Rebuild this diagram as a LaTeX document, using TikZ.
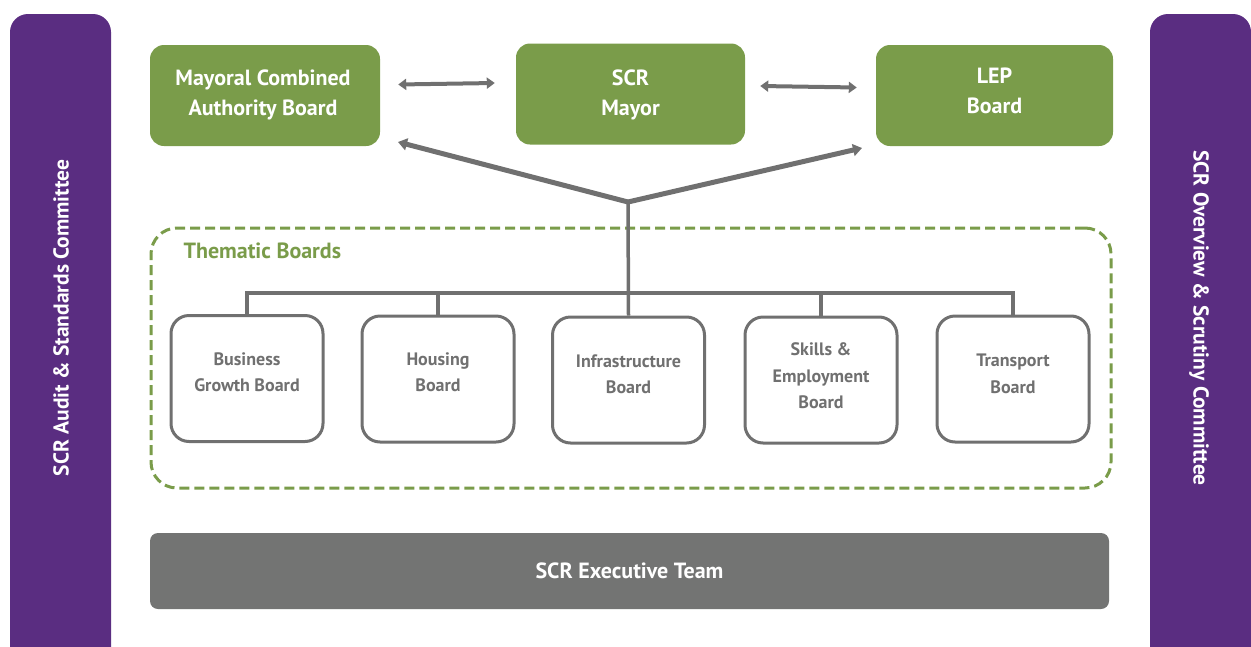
\documentclass[tikz,border=0pt]{standalone}
\usepackage{fontspec}
\setmainfont{PT Sans}
\usetikzlibrary{arrows.meta}
\definecolor{spurple}{HTML}{5A2D81}
\definecolor{sgreen}{HTML}{7A9C4A}
\definecolor{sline}{HTML}{707070}
\definecolor{sexec}{HTML}{737473}
\begin{document}
\begin{tikzpicture}[x=1pt,y=-1pt,
  greenbox/.style={fill=sgreen, rounded corners=14pt, inner sep=0pt, minimum height=101pt},
  greentext/.style={text=white, font=\bfseries\fontsize{22}{30}\selectfont, align=center, inner sep=0pt},
  sidebar/.style={fill=spurple, rounded corners=18pt},
  sidetext/.style={text=white, font=\bfseries\fontsize{21.5}{24}\selectfont},
  boardbox/.style={draw=sline, line width=3pt, rounded corners=18pt, fill=white,
    minimum width=152pt, minimum height=126pt, inner sep=0pt},
  boardtext/.style={align=center, text=sline, font=\bfseries\fontsize{18}{26.5}\selectfont, inner sep=0pt},
  tree/.style={draw=sline, line width=3.5pt},
  dbl/.style={draw=sline, line width=4pt, {Triangle[length=8pt,width=11pt]}-{Triangle[length=8pt,width=11pt]}},
  varrow/.style={draw=sline, line width=5pt, -{Triangle[length=9pt,width=12pt]}},
  thematicbox/.style={draw=sgreen, line width=3pt, dash pattern=on 10pt off 5pt,
    rounded corners=26pt, minimum width=960pt, minimum height=260pt, inner sep=0pt},
  execbox/.style={fill=sexec, rounded corners=8pt, minimum width=959pt, minimum height=76pt,
    text=white, font=\bfseries\fontsize{22}{24}\selectfont, inner sep=0pt}
]
\useasboundingbox (0,0) rectangle (1251,646);
\begin{scope}
  \clip (0,0) rectangle (1251,646);
  \fill[sidebar] (10,14) rectangle (111,690);
  \fill[sidebar] (1150,14) rectangle (1251,690);
\end{scope}
\node[sidetext, rotate=90] (audit) at (61,318) {SCR Audit \& Standards Committee};
\node[sidetext, rotate=-90] (overview) at (1199,318) {SCR Overview \& Scrutiny Committee};

% top boxes
\node[greenbox, minimum width=230pt] (mca) at (265,95.5) {};
\node[greentext] (mcatext) at (263,95) {Mayoral Combined\\Authority Board};
\node[greenbox, minimum width=229pt] (mayor) at (630.5,94) {};
\node[greentext] (mayortext) at (630.5,95) {SCR\\Mayor};
\node[greenbox, minimum width=237pt] (lep) at (994.5,95.5) {};
\node[greentext] (leptext) at (994.5,91) {LEP\\Board};

\draw[dbl] ([xshift=18pt,yshift=11pt]mca.east) -- ([xshift=-21pt,yshift=11pt]mayor.west);
\draw[dbl] ([xshift=15pt,yshift=8pt]mayor.east) -- ([xshift=-19pt,yshift=8pt]lep.west);

% thematic boards
\node[thematicbox] (thematic) at (631,358) {};
\node[anchor=west, text=sgreen, font=\bfseries\fontsize{22}{24}\selectfont] (thlabel) at (180,251) {Thematic Boards};

\node[boardbox] (bgb) at (247,378.5) {};
\node[boardtext] (bgbtext) at (247,372) {Business\\Growth Board};
\node[boardbox] (hou) at (438,379) {};
\node[boardtext] (houtext) at (438,372) {Housing\\Board};
\node[boardbox] (inf) at (628.5,380) {};
\node[boardtext] (inftext) at (628.5,374) {Infrastructure\\Board};
\node[boardbox] (ski) at (821,380) {};
\node[boardtext] (skitext) at (821,376) {Skills \&\\Employment\\Board};
\node[boardbox] (tra) at (1013,379) {};
\node[boardtext] (tratext) at (1013,374) {Transport\\Board};

\coordinate (junction) at (628,202);
\coordinate (mcaend) at (398,142);
\coordinate (lepend) at (862,148);
\coordinate (barY) at (0,293);

\draw[varrow] (junction) -- (mcaend);
\draw[varrow] (junction) -- (lepend);
\draw[tree] (junction) -- (inf.north);
\draw[tree] (bgb.north) -- (bgb.north |- barY) -- (tra.north |- barY) -- (tra.north);
\draw[tree] (hou.north) -- (hou.north |- barY);
\draw[tree] (ski.north) -- (ski.north |- barY);

\node[execbox] (exec) at (629.5,571) {SCR Executive Team};
\end{tikzpicture}
\end{document}
